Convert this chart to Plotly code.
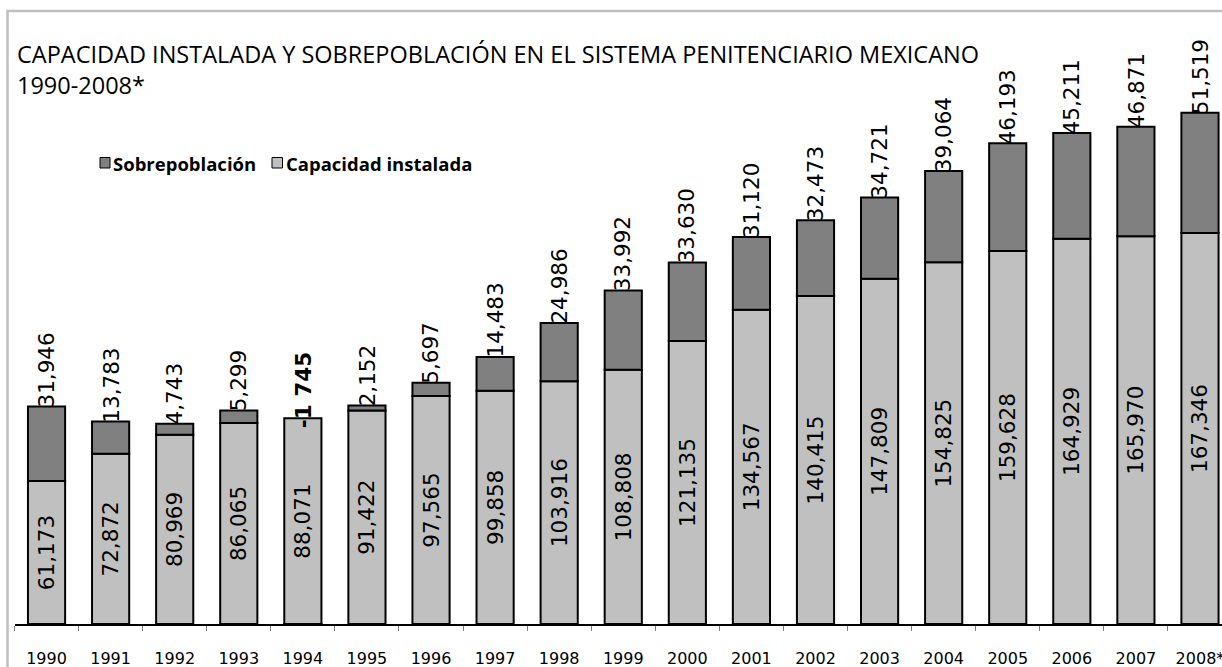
import plotly.graph_objects as go

years = ["1990", "1991", "1992", "1993", "1994", "1995", "1996", "1997", "1998", "1999",
         "2000", "2001", "2002", "2003", "2004", "2005", "2006", "2007", "2008*"]
capacidad = [61173, 72872, 80969, 86065, 88071, 91422, 97565, 99858, 103916, 108808,
             121135, 134567, 140415, 147809, 154825, 159628, 164929, 165970, 167346]
sobrepoblacion = [31946, 13783, 4743, 5299, -1745, 2152, 5697, 14483, 24986, 33992,
                  33630, 31120, 32473, 34721, 39064, 46193, 45211, 46871, 51519]

W, H = 1222, 667
LIGHT = "#c0c0c0"
DARK = "#808080"

def px_x(p):
    return p / W

def px_y(p):
    return 1 - p / H

fig = go.Figure()
fig.add_trace(go.Bar(
    x=years, y=capacidad, name="Capacidad instalada",
    marker=dict(color=LIGHT, line=dict(color="black", width=2)),
    text=[f"{v:,}" for v in capacidad], textposition="inside",
    insidetextanchor="middle", textangle=-90, constraintext="none",
    textfont=dict(family="DejaVu Sans", size=21.5, color="black"),
    showlegend=False,
))
fig.add_trace(go.Bar(
    x=years, y=sobrepoblacion, name="Sobrepoblación",
    marker=dict(color=DARK, line=dict(color="black", width=2)),
    showlegend=False,
))

annotations = []
for i, (c, s) in enumerate(zip(capacidad, sobrepoblacion)):
    top = c + max(s, 0)
    if s < 0:
        txt = "<b>-" + f"{abs(s):,}".replace(",", " ") + "</b>"
        shift = -12
    else:
        txt = f"{s:,}"
        shift = -3
    annotations.append(dict(
        x=i, y=top, xref="x", yref="y", text=txt, textangle=-90,
        showarrow=False, xanchor="center", yanchor="bottom", yshift=shift,
        font=dict(family="DejaVu Sans", size=21.5, color="black"),
    ))

annotations.append(dict(
    x=px_x(15), y=px_y(36), xref="paper", yref="paper", xanchor="left", yanchor="top",
    align="left", showarrow=False,
    text="CAPACIDAD INSTALADA Y SOBREPOBLACIÓN EN EL SISTEMA PENITENCIARIO MEXICANO<br>1990-2008*",
    font=dict(family="Open Sans", size=23.5, color="black"),
))
annotations.append(dict(
    x=px_x(111), y=px_y(163), xref="paper", yref="paper", xanchor="left", yanchor="middle",
    showarrow=False, text="<b>Sobrepoblación</b>",
    font=dict(family="Open Sans", size=18.5, color="black"),
))
annotations.append(dict(
    x=px_x(284), y=px_y(163), xref="paper", yref="paper", xanchor="left", yanchor="middle",
    showarrow=False, text="<b>Capacidad instalada</b>",
    font=dict(family="Open Sans", size=18.5, color="black"),
))

shapes = [
    dict(type="rect", xref="paper", yref="paper",
         x0=px_x(7.5), x1=px_x(1240), y0=px_y(11), y1=px_y(700),
         line=dict(color="#bfbfbf", width=2.5), fillcolor="rgba(0,0,0,0)", layer="below"),
    dict(type="rect", xref="paper", yref="paper",
         x0=px_x(100), x1=px_x(110), y0=px_y(157.5), y1=px_y(168),
         line=dict(color="black", width=1), fillcolor=DARK),
    dict(type="rect", xref="paper", yref="paper",
         x0=px_x(272), x1=px_x(282.5), y0=px_y(157.5), y1=px_y(168),
         line=dict(color="black", width=1), fillcolor=LIGHT),
]

plot_left = 14.5
step = 64.08
x_max = (W - plot_left) / step - 0.5

fig.update_layout(
    width=W, height=H,
    margin=dict(l=0, r=0, t=0, b=0),
    paper_bgcolor="white", plot_bgcolor="white",
    barmode="relative", bargap=0.42,
    annotations=annotations, shapes=shapes,
    xaxis=dict(
        type="category",
        domain=[px_x(plot_left), 1], range=[-0.5, x_max],
        showline=True, linecolor="black", linewidth=1.5,
        ticks="outside", tickson="boundaries", ticklen=5, tickcolor="#808080", tickwidth=1,
        tickfont=dict(family="DejaVu Sans", size=16, color="black"),
        ticklabelstandoff=19, automargin=False, showgrid=False, zeroline=False,
    ),
    yaxis=dict(
        domain=[px_y(624), px_y(40)], range=[0, 250000],
        visible=False, showgrid=False, zeroline=False, automargin=False,
    ),
    font=dict(family="DejaVu Sans"),
)

fig.write_html(
    "out.html",
    config={"displayModeBar": False},
    post_script="document.body.style.margin='0';document.body.style.overflow='hidden';",
)
